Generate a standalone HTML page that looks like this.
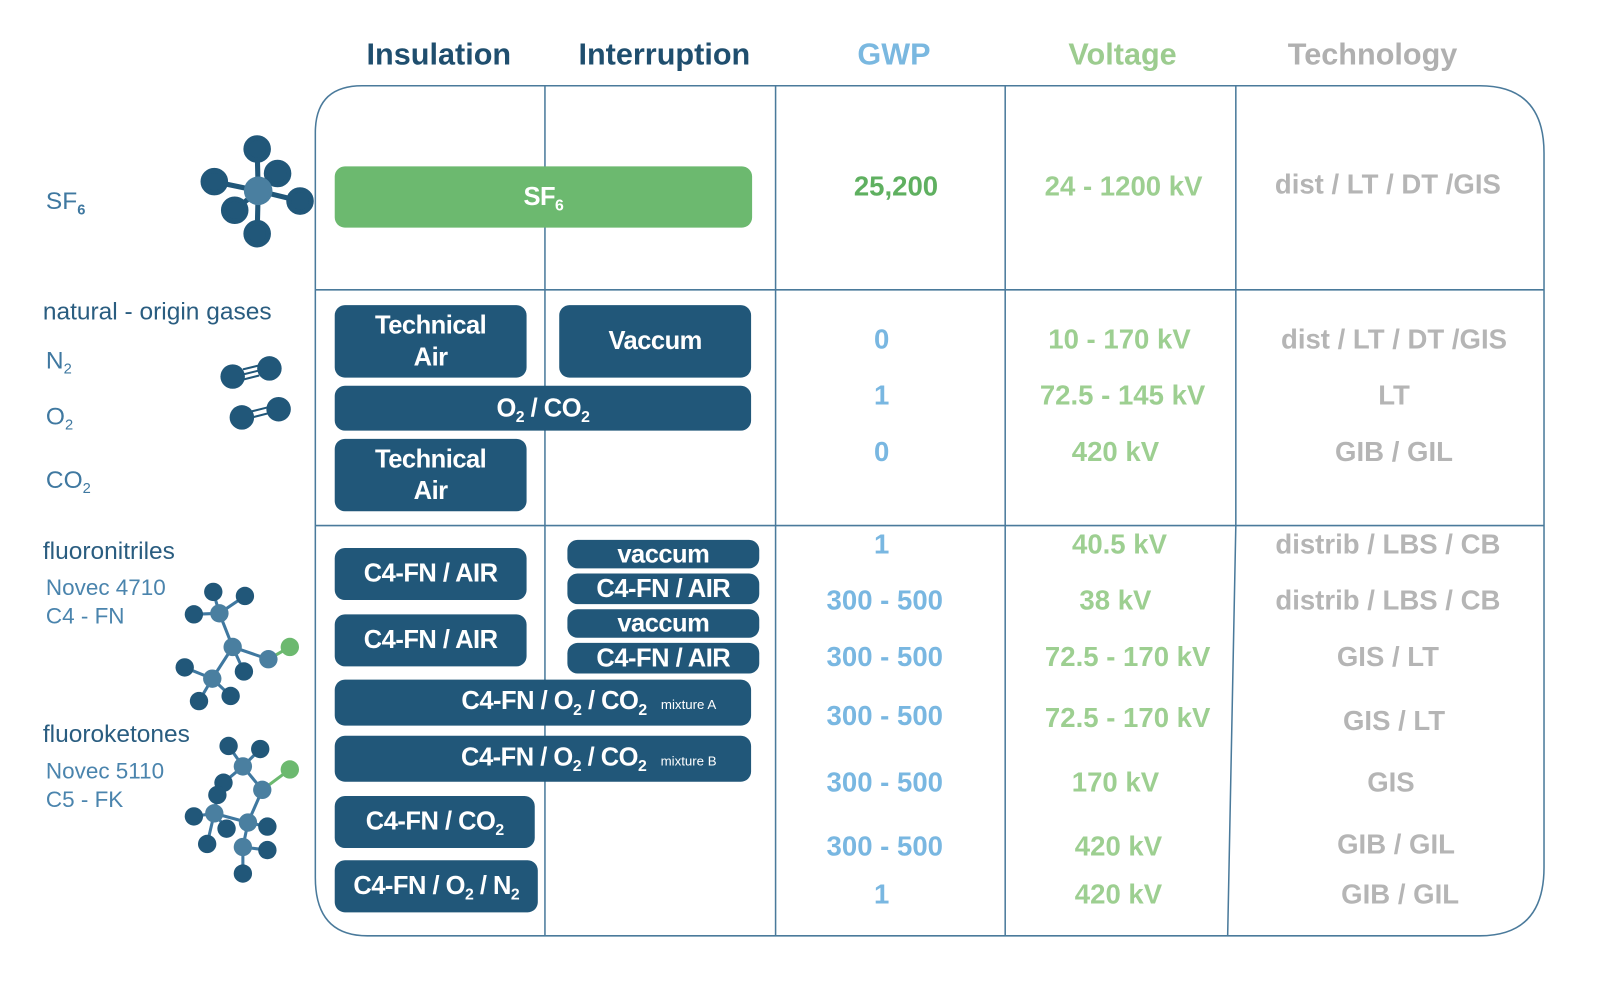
<!DOCTYPE html>
<html><head><meta charset="utf-8"><style>
body{margin:0;width:1600px;height:994px;background:#fff;position:relative;overflow:hidden;font-family:"Liberation Sans",sans-serif}
#w{position:absolute;left:0;top:0;width:1560px;height:970px;transform:scale(1.0205);transform-origin:0 0}
.a{position:absolute}
.h{position:absolute;font-weight:bold;font-size:30px;transform:translateX(-50%);white-space:nowrap;top:37px}
.lab{position:absolute;font-size:24px;color:#3f78a0;white-space:nowrap}
.b{position:absolute;background:#215779;color:#fff;border-radius:10px;font-weight:bold;display:flex;align-items:center;justify-content:center;text-align:center;font-size:25px;line-height:31px;letter-spacing:-0.5px;white-space:nowrap}
.v{position:absolute;font-weight:bold;font-size:27px;transform:translate(-50%,-50%);white-space:nowrap}
.g{color:#79b7e1}.gr{color:#9dcf91}.t{color:#b5b5b5}
sub{font-size:0.6em;vertical-align:-0.35em;line-height:0}
.b sub{font-size:0.62em}
.sm{font-size:13px;font-weight:normal;margin-left:14px;letter-spacing:0}
</style></head><body><div id="w">
<div class="h" style="left:430px;color:#1f4e6e">Insulation</div>
<div class="h" style="left:651px;color:#1f4e6e">Interruption</div>
<div class="h" style="left:876px;color:#7ab8e0">GWP</div>
<div class="h" style="left:1100px;color:#9ccc8f">Voltage</div>
<div class="h" style="left:1345px;color:#b0b0b0">Technology</div>

<svg class="a" style="left:0;top:0" width="1560" height="970">
<g fill="none" stroke="#4a7a9b" stroke-width="1.5">
<path d="M355 84 H1450 Q1513 84 1513 150 V850 Q1513 917 1450 917 H360 Q309 917 309 860 V130 Q309 84 355 84 Z"/>
<line x1="534" y1="84" x2="534" y2="917"/>
<line x1="760" y1="84" x2="760" y2="917"/>
<line x1="985" y1="84" x2="985" y2="917"/>
<polyline points="1211,84 1211,515 1203,917"/>
<line x1="309" y1="284" x2="1513" y2="284"/>
<line x1="309" y1="515" x2="1513" y2="515"/>
</g>
<g stroke="#215779" stroke-width="5" fill="#215779">
<line x1="253" y1="187" x2="252" y2="146"/><line x1="253" y1="187" x2="272" y2="170"/><line x1="253" y1="187" x2="210" y2="178"/><line x1="253" y1="187" x2="294" y2="197"/><line x1="253" y1="187" x2="230" y2="206"/><line x1="253" y1="187" x2="252" y2="229"/>
<circle cx="252" cy="146" r="11"/><circle cx="272" cy="170" r="11"/><circle cx="210" cy="178" r="11"/><circle cx="294" cy="197" r="11"/><circle cx="230" cy="206" r="11"/><circle cx="252" cy="229" r="11"/>
</g>
<circle cx="253" cy="187" r="14" fill="#4a7fa0"/>
<g fill="#215779"><circle cx="228" cy="369" r="12"/><circle cx="264" cy="361" r="12"/><circle cx="237" cy="409" r="12"/><circle cx="273" cy="401" r="12"/></g>
<g stroke="#215779" stroke-width="2"><line x1="238" y1="362" x2="254" y2="358"/><line x1="238" y1="367" x2="254" y2="363"/><line x1="238" y1="372" x2="254" y2="368"/><line x1="247" y1="403" x2="263" y2="399"/><line x1="247" y1="409" x2="263" y2="405"/></g>
<g stroke="#3f78a0" stroke-width="3">
<line x1="215" y1="601" x2="209" y2="580"/><line x1="215" y1="601" x2="240" y2="584"/><line x1="215" y1="601" x2="190" y2="602"/><line x1="215" y1="601" x2="228" y2="634"/><line x1="228" y1="634" x2="263" y2="646"/><line x1="263" y1="646" x2="284" y2="634" stroke="#6cb96f"/><line x1="228" y1="634" x2="208" y2="665"/><line x1="228" y1="634" x2="239" y2="658"/><line x1="208" y1="665" x2="181" y2="654"/><line x1="208" y1="665" x2="195" y2="687"/><line x1="208" y1="665" x2="226" y2="682"/>
<line x1="238" y1="751" x2="224" y2="731"/><line x1="238" y1="751" x2="255" y2="734"/><line x1="238" y1="751" x2="219" y2="767"/><line x1="238" y1="751" x2="257" y2="774"/><line x1="257" y1="774" x2="284" y2="754" stroke="#6cb96f"/><line x1="257" y1="774" x2="243" y2="806"/><line x1="243" y1="806" x2="210" y2="797"/><line x1="210" y1="797" x2="213" y2="779"/><line x1="210" y1="797" x2="190" y2="800"/><line x1="210" y1="797" x2="203" y2="827"/><line x1="210" y1="797" x2="222" y2="812"/><line x1="243" y1="806" x2="262" y2="810"/><line x1="243" y1="806" x2="238" y2="830"/><line x1="238" y1="830" x2="262" y2="833"/><line x1="238" y1="830" x2="238" y2="856"/>
</g>
<g fill="#215779">
<circle cx="209" cy="580" r="9"/><circle cx="240" cy="584" r="9"/><circle cx="190" cy="602" r="9"/><circle cx="181" cy="654" r="9"/><circle cx="239" cy="658" r="9"/><circle cx="195" cy="687" r="9"/><circle cx="226" cy="682" r="9"/>
<circle cx="224" cy="731" r="9"/><circle cx="255" cy="734" r="9"/><circle cx="219" cy="767" r="9"/><circle cx="213" cy="779" r="9"/><circle cx="190" cy="800" r="9"/><circle cx="222" cy="812" r="9"/><circle cx="203" cy="827" r="9"/><circle cx="262" cy="810" r="9"/><circle cx="262" cy="833" r="9"/><circle cx="238" cy="856" r="9"/>
</g>
<g fill="#4a7fa0">
<circle cx="215" cy="601" r="9"/><circle cx="228" cy="634" r="9"/><circle cx="263" cy="646" r="9"/><circle cx="208" cy="665" r="9"/>
<circle cx="238" cy="751" r="9"/><circle cx="257" cy="774" r="9"/><circle cx="243" cy="806" r="9"/><circle cx="210" cy="797" r="9"/><circle cx="238" cy="830" r="9"/>
</g>
<circle cx="284" cy="634" r="9" fill="#6cb96f"/><circle cx="284" cy="754" r="9" fill="#6cb96f"/>
</svg>

<div class="lab" style="left:45px;top:184px">SF<sub style="font-weight:bold">6</sub></div>
<div class="lab" style="left:42px;top:292px;color:#2a5d80">natural - origin gases</div>
<div class="lab" style="left:45px;top:340px">N<sub>2</sub></div>
<div class="lab" style="left:45px;top:395px">O<sub>2</sub></div>
<div class="lab" style="left:45px;top:457px">CO<sub>2</sub></div>
<div class="lab" style="left:42px;top:527px;color:#2a5d80">fluoronitriles</div>
<div class="lab" style="left:45px;top:563px;color:#4a84ad;font-size:22px">Novec 4710</div>
<div class="lab" style="left:45px;top:591px;color:#4a84ad;font-size:22px">C4 - FN</div>
<div class="lab" style="left:42px;top:706px;color:#2a5d80">fluoroketones</div>
<div class="lab" style="left:45px;top:743px;color:#4a84ad;font-size:22px">Novec 5110</div>
<div class="lab" style="left:45px;top:771px;color:#4a84ad;font-size:22px">C5 - FK</div>

<div class="b" style="left:328px;top:163px;width:409px;height:60px;background:#6cb96f"><span>SF<sub>6</sub></span></div>
<div class="b" style="left:328px;top:299px;width:188px;height:71px"><span>Technical<br>Air</span></div>
<div class="b" style="left:548px;top:299px;width:188px;height:71px"><span>Vaccum</span></div>
<div class="b" style="left:328px;top:378px;width:408px;height:44px"><span>O<sub>2</sub> / CO<sub>2</sub></span></div>
<div class="b" style="left:328px;top:430px;width:188px;height:71px"><span>Technical<br>Air</span></div>
<div class="b" style="left:328px;top:537px;width:188px;height:51px"><span>C4-FN / AIR</span></div>
<div class="b" style="left:328px;top:602px;width:188px;height:51px"><span>C4-FN / AIR</span></div>
<div class="b" style="left:556px;top:529px;width:188px;height:28px"><span>vaccum</span></div>
<div class="b" style="left:556px;top:562px;width:188px;height:30px"><span>C4-FN / AIR</span></div>
<div class="b" style="left:556px;top:597px;width:188px;height:28px"><span>vaccum</span></div>
<div class="b" style="left:556px;top:630px;width:188px;height:30px"><span>C4-FN / AIR</span></div>
<div class="b" style="left:328px;top:666px;width:408px;height:45px;padding-left:90px;box-sizing:border-box"><span>C4-FN / O<sub>2</sub> / CO<sub>2</sub><span class="sm">mixture A</span></span></div>
<div class="b" style="left:328px;top:721px;width:408px;height:45px;padding-left:90px;box-sizing:border-box"><span>C4-FN / O<sub>2</sub> / CO<sub>2</sub><span class="sm">mixture B</span></span></div>
<div class="b" style="left:328px;top:780px;width:196px;height:51px"><span>C4-FN / CO<sub>2</sub></span></div>
<div class="b" style="left:328px;top:843px;width:199px;height:51px"><span>C4-FN / O<sub>2</sub> / N<sub>2</sub></span></div>

<div class="v" style="left:878px;top:183px;color:#5fb060">25,200</div>
<div class="v g" style="left:864px;top:333px">0</div>
<div class="v g" style="left:864px;top:388px">1</div>
<div class="v g" style="left:864px;top:443px">0</div>
<div class="v g" style="left:864px;top:534px">1</div>
<div class="v g" style="left:867px;top:589px">300 - 500</div>
<div class="v g" style="left:867px;top:644px">300 - 500</div>
<div class="v g" style="left:867px;top:702px">300 - 500</div>
<div class="v g" style="left:867px;top:767px">300 - 500</div>
<div class="v g" style="left:867px;top:830px">300 - 500</div>
<div class="v g" style="left:864px;top:877px">1</div>

<div class="v gr" style="left:1101px;top:183px">24 - 1200 kV</div>
<div class="v gr" style="left:1097px;top:333px">10 - 170 kV</div>
<div class="v gr" style="left:1100px;top:388px">72.5 - 145 kV</div>
<div class="v gr" style="left:1093px;top:443px">420 kV</div>
<div class="v gr" style="left:1097px;top:534px">40.5 kV</div>
<div class="v gr" style="left:1093px;top:589px">38 kV</div>
<div class="v gr" style="left:1105px;top:644px">72.5 - 170 kV</div>
<div class="v gr" style="left:1105px;top:704px">72.5 - 170 kV</div>
<div class="v gr" style="left:1093px;top:767px">170 kV</div>
<div class="v gr" style="left:1096px;top:830px">420 kV</div>
<div class="v gr" style="left:1096px;top:877px">420 kV</div>

<div class="v t" style="left:1360px;top:181px">dist / LT / DT /GIS</div>
<div class="v t" style="left:1366px;top:333px">dist / LT / DT /GIS</div>
<div class="v t" style="left:1366px;top:388px">LT</div>
<div class="v t" style="left:1366px;top:443px">GIB / GIL</div>
<div class="v t" style="left:1360px;top:534px">distrib / LBS / CB</div>
<div class="v t" style="left:1360px;top:589px">distrib / LBS / CB</div>
<div class="v t" style="left:1360px;top:644px">GIS / LT</div>
<div class="v t" style="left:1366px;top:707px">GIS / LT</div>
<div class="v t" style="left:1363px;top:767px">GIS</div>
<div class="v t" style="left:1368px;top:828px">GIB / GIL</div>
<div class="v t" style="left:1372px;top:877px">GIB / GIL</div>
</div></body></html>
